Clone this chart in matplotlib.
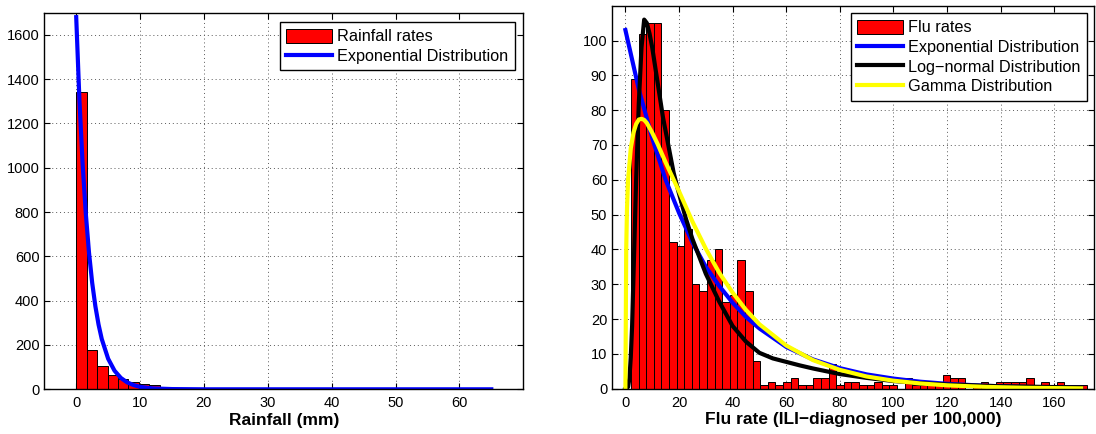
import numpy as np
import matplotlib.pyplot as plt

plt.rcParams['font.family'] = ['Liberation Sans', 'DejaVu Sans']

# Rainfall histogram (40 bins of 1.635 mm starting at 0)
rain_bin_start = 0.0
rain_bin_width = 1.635
rain_counts = [1342, 179, 104, 65, 47, 32, 26, 20, 12, 8,
               6, 5, 4, 3, 3, 2, 2, 2, 1, 1,
               1, 1, 1, 0, 1, 0, 1, 0, 0, 1,
               0, 0, 0, 0, 0, 1, 0, 0, 0, 1]

# Exponential fit drawn over the rainfall histogram
rain_fit_x = [0, 0.5, 1, 1.5, 2, 2.5, 3, 3.5, 4, 5, 6, 7, 8, 9, 10, 12, 15, 20, 30, 65]
rain_fit_y = [1680, 1308, 1019, 794, 618, 481, 375, 292, 227, 138, 84, 51, 31, 19, 11, 4, 1, 0, 0, 0]

# Flu rate histogram (60 bins of 2.835 starting at 2.1)
flu_bin_start = 2.1
flu_bin_width = 2.835
flu_counts = [89, 102, 105, 105, 80, 42, 41, 46, 30, 28,
              37, 40, 25, 27, 37, 28, 8, 1, 2, 1,
              2, 3, 1, 1, 3, 3, 7, 1, 2, 2,
              1, 1, 2, 1, 1, 0, 3, 1, 1, 1,
              2, 4, 3, 3, 0, 1, 2, 1, 2, 2,
              2, 2, 3, 0, 2, 1, 2, 1, 1, 1]

# Fitted curves over the flu histogram
expo_x = [0, 5, 10, 15, 20, 25, 30, 35, 40, 45, 50, 60, 70, 80, 90, 100, 110, 120, 135, 150, 170]
expo_y = [103, 86, 72, 60, 50.5, 42, 35, 29.5, 24.7, 20.6, 17.3, 12, 8.4, 5.9, 4.1, 2.9, 2.0, 1.4, 0.8, 0.5, 0.25]

logn_x = [0, 1, 1.5, 2, 2.5, 3, 3.5, 4, 5, 6, 7, 8, 9, 10, 12, 14, 16, 18, 20, 22.5, 25,
          30, 35, 40, 45, 50, 55, 60, 65, 70, 75, 80, 90, 100, 110, 120, 140, 170]
logn_y = [0, 0.5, 3, 9, 18, 32, 46, 60, 82, 98, 106, 105, 102, 98, 88, 78, 70, 62, 56, 49, 43,
          33, 25, 18, 13.5, 10.3, 8.7, 7.7, 6.7, 5.8, 5, 4.2, 3.1, 2.2, 1.6, 1.2, 0.7, 0.35]

gamma_x = [0, 0.3, 0.6, 1, 2, 3, 4, 5, 6, 7, 8, 10, 12, 15, 20, 25, 30, 35, 40, 45, 50,
           60, 70, 80, 90, 100, 110, 120, 135, 150, 170]
gamma_y = [0, 40, 52, 60, 69, 73.5, 76, 77.3, 77.5, 77.2, 76.3, 73.5, 70.3, 65, 56.7, 48, 40.2,
           33.3, 27.6, 22.6, 18.5, 12.4, 8.2, 5.4, 3.5, 2.3, 1.5, 0.97, 0.5, 0.25, 0.1]


def style_axes(ax):
    ax.grid(True, linestyle=(0, (1, 3)), color='0.35', linewidth=0.7)
    ax.set_axisbelow(True)
    ax.tick_params(direction='in', top=True, right=True, length=4, width=0.8, labelsize=10.5)
    ax.tick_params(axis='x', pad=5)
    for sp in ax.spines.values():
        sp.set_linewidth(1.0)


def add_legend(ax, handles, anchor):
    ax.legend(handles=handles, loc='upper right', bbox_to_anchor=anchor, borderaxespad=0,
              fancybox=False, framealpha=1, edgecolor='black', fontsize=11.7,
              handlelength=2.8, handleheight=0.95, handletextpad=0.35, labelspacing=0.25,
              borderpad=0.4)


fig = plt.figure(figsize=(10.96, 4.34), dpi=100)
ax1 = fig.add_axes([0.0404, 0.103, 0.437, 0.8677])
ax2 = fig.add_axes([0.5584, 0.1044, 0.4402, 0.8825])

# Left: rainfall
rain_edges = rain_bin_start + rain_bin_width * np.arange(len(rain_counts))
bars1 = ax1.bar(rain_edges, rain_counts, width=rain_bin_width, align='edge',
                color='red', edgecolor='black', linewidth=0.7, label='Rainfall rates')
line1, = ax1.plot(rain_fit_x, rain_fit_y, color='blue', linewidth=3, label='Exponential Distribution')
ax1.set_xlim(-5, 70)
ax1.set_ylim(0, 1700)
ax1.set_xticks(range(0, 61, 10))
ax1.set_yticks(range(0, 1601, 200))
ax1.set_xlabel('Rainfall (mm)', fontsize=12.5, fontweight='bold', labelpad=2)
style_axes(ax1)
add_legend(ax1, [bars1, line1], (0.983, 0.975))

# Right: flu rates
flu_edges = flu_bin_start + flu_bin_width * np.arange(len(flu_counts))
bars2 = ax2.bar(flu_edges, flu_counts, width=flu_bin_width, align='edge',
                color='red', edgecolor='black', linewidth=0.7, label='Flu rates')
l_exp, = ax2.plot(expo_x, expo_y, color='blue', linewidth=3, label='Exponential Distribution')
l_log, = ax2.plot(logn_x, logn_y, color='black', linewidth=3, label='Log\u2212normal Distribution')
l_gam, = ax2.plot(gamma_x, gamma_y, color='yellow', linewidth=3, label='Gamma Distribution')
ax2.set_xlim(-5, 175)
ax2.set_ylim(0, 110)
ax2.set_xticks(range(0, 161, 20))
ax2.set_yticks(range(0, 101, 10))
ax2.set_xlabel('Flu rate (ILI\u2212diagnosed per 100,000)', fontsize=12.5, fontweight='bold', labelpad=2)
style_axes(ax2)
add_legend(ax2, [bars2, l_exp, l_log, l_gam], (0.985, 0.98))

fig.savefig('out.png', dpi=100)
